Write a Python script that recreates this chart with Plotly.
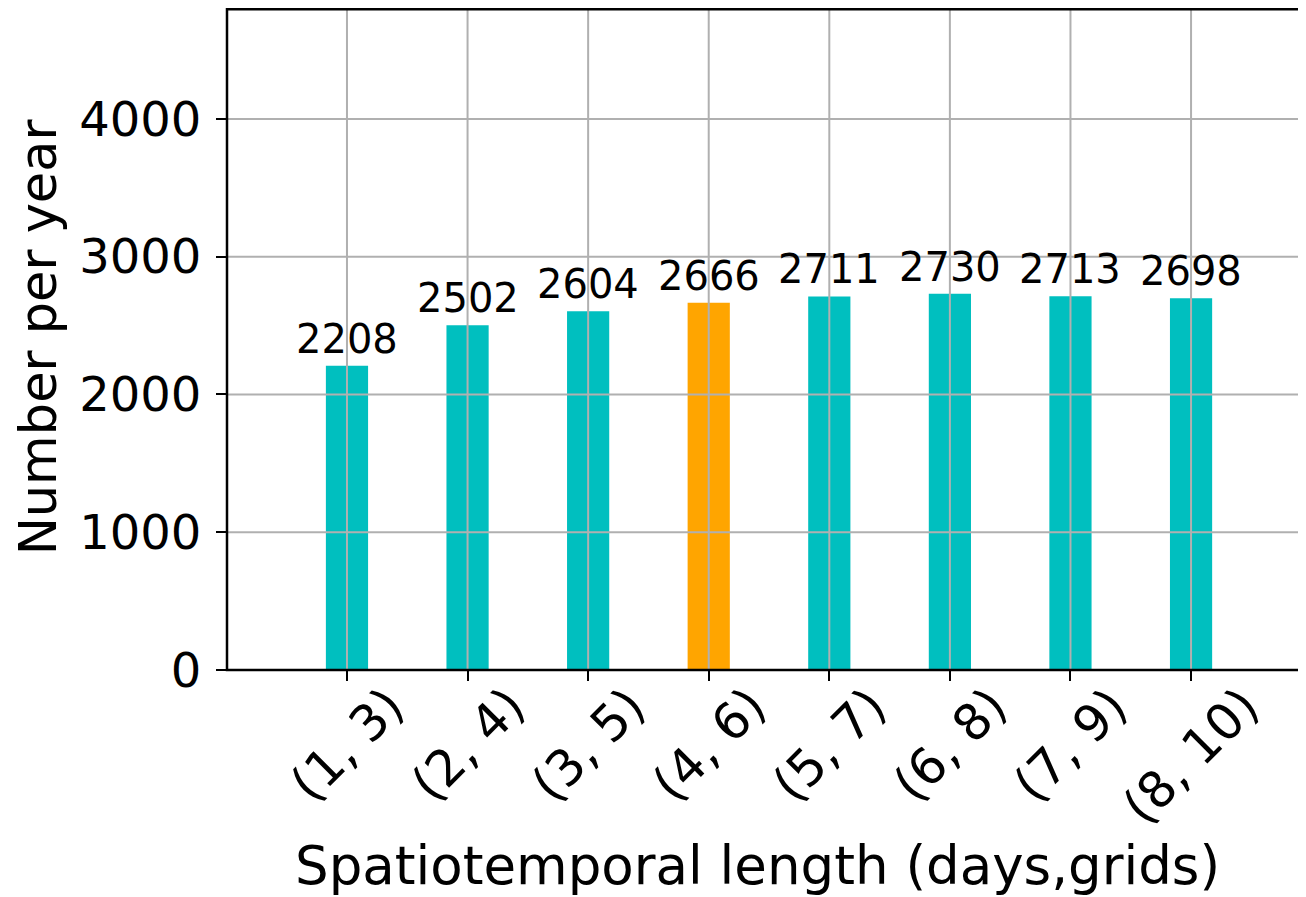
import plotly.graph_objects as go

categories = ["(1, 3)", "(2, 4)", "(3, 5)", "(4, 6)", "(5, 7)", "(6, 8)", "(7, 9)", "(8, 10)"]
values = [2208, 2502, 2604, 2666, 2711, 2730, 2713, 2698]
highlight = "(4, 6)"
y_ticks = [0, 1000, 2000, 3000, 4000]

TEAL = "#00BFBF"
ORANGE = "#FFA500"
GRID = "#b0b0b0"
FONT = "DejaVu Sans"

xpos = list(range(len(categories)))
colors = [ORANGE if c == highlight else TEAL for c in categories]

fig = go.Figure()
fig.add_trace(go.Bar(
    x=xpos, y=values, width=0.35, marker=dict(color=colors, line=dict(width=0)),
    hoverinfo="skip", showlegend=False,
))

ymax = max(values) * 1.76

shapes = []
for x in xpos:
    shapes.append(dict(type="line", xref="x", yref="paper", x0=x, x1=x, y0=0, y1=1,
                       line=dict(color=GRID, width=2), layer="above"))
for yv in y_ticks:
    shapes.append(dict(type="line", xref="paper", yref="y", x0=0, x1=1, y0=yv, y1=yv,
                       line=dict(color=GRID, width=2), layer="above"))
# frame
shapes.append(dict(type="rect", xref="paper", yref="paper", x0=0, x1=1, y0=0, y1=0.998,
                   line=dict(color="black", width=2.5), layer="above"))

annotations = []
for x, v in zip(xpos, values):
    annotations.append(dict(x=x, y=v, xref="x", yref="y", text=str(v), showarrow=False,
                            yanchor="bottom", xanchor="center", yshift=2,
                            font=dict(family=FONT, size=40, color="black")))
for x, c in zip(xpos, categories):
    annotations.append(dict(x=x, y=0, xref="x", yref="paper", text=c, showarrow=False,
                            textangle=-45, yanchor="top", xanchor="center", yshift=-4,
                            font=dict(family=FONT, size=50, color="black")))
annotations.append(dict(x=-0.175, y=0.503, xref="paper", yref="paper", text="Number per year",
                        showarrow=False, textangle=-90, xanchor="center", yanchor="middle",
                        font=dict(family=FONT, size=51, color="black")))
annotations.append(dict(x=0.4921, y=-0.2946, xref="paper", yref="paper",
                        text="Spatiotemporal length (days,grids)", showarrow=False,
                        xanchor="center", yanchor="middle",
                        font=dict(family=FONT, size=53, color="black")))

fig.update_layout(
    width=1298, height=889,
    margin=dict(l=219, r=1, t=0, b=227),
    paper_bgcolor="white", plot_bgcolor="white",
    font=dict(family=FONT, color="black"),
    shapes=shapes, annotations=annotations,
    xaxis=dict(range=[-0.995, 7.945], tickmode="array", tickvals=xpos, ticktext=[""] * len(xpos),
               showgrid=False, zeroline=False, showline=False,
               ticks="outside", ticklen=10, tickwidth=2, tickcolor="black"),
    yaxis=dict(range=[0, ymax], tickmode="array", tickvals=y_ticks,
               ticktext=[str(t) for t in y_ticks],
               showgrid=False, zeroline=False, showline=False,
               ticks="outside", ticklen=10, tickwidth=2, tickcolor="black",
               ticklabelstandoff=5,
               tickfont=dict(family=FONT, size=48, color="black")),
)

fig.write_html("out.html")
